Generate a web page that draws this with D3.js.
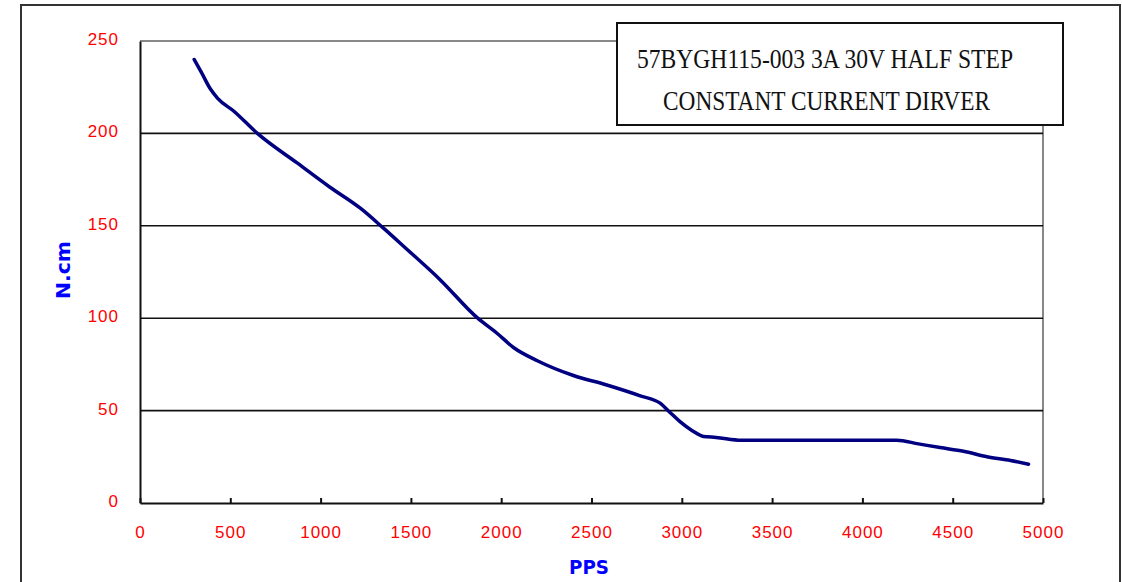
<!DOCTYPE html>
<html>
<head>
<meta charset="utf-8">
<script src="https://d3js.org/d3.v7.min.js"></script>
<style>
  body { margin: 0; background: #fff; }
</style>
</head>
<body>
<div id="torqueCurve"></div>
<script>
// data
var pps = [300, 340, 390, 430, 520, 650, 870, 1050, 1220, 1345, 1470, 1660, 1870, 1975, 2070, 2200,
  2400, 2580, 2770, 2880, 2935, 2990, 3060, 3120, 3190, 3330, 4190, 4310, 4430, 4560, 4690, 4820, 4920]
var torque = [240, 233, 224, 219, 212, 200, 184, 171, 159.5, 149, 138, 121, 100, 92, 84, 77,
  69, 64, 58, 54, 49, 44, 39, 36, 35.5, 34, 34, 32, 30, 28, 25, 23, 21]
var xTicks = [0, 500, 1000, 1500, 2000, 2500, 3000, 3500, 4000, 4500, 5000]
var yTicks = [0, 50, 100, 150, 200, 250]
var titleLines = ["57BYGH115-003 3A 30V HALF STEP", "CONSTANT CURRENT DIRVER"]
var xTitle = "PPS"
var yTitle = "N.cm"

// set the dimensions and margins of the graph
var W = 1122, H = 582
var margin = {top: 41, right: 79, bottom: 79, left: 140},
    width = W - margin.left - margin.right,
    height = H - margin.top - margin.bottom

var svg = d3.select("#torqueCurve")
  .append("svg")
  .attr("width", W)
  .attr("height", H)

// outer frame
svg.append("rect")
  .attr("x", 21).attr("y", 5)
  .attr("width", 1099).attr("height", 600)
  .attr("fill", "none")
  .attr("stroke", "#333")
  .attr("stroke-width", 2)

var g = svg.append("g")
  .attr("transform", "translate(" + margin.left + "," + margin.top + ")")

var x = d3.scaleLinear().domain([0, 5000]).range([0, width])
var y = d3.scaleLinear().domain([0, 250]).range([height, 0])

// top and right border (grey)
g.append("path")
  .attr("d", "M0,0H" + width + "V" + height)
  .attr("fill", "none")
  .attr("stroke", "#888")
  .attr("stroke-width", 2)

// gridlines
g.selectAll("line.grid")
  .data(yTicks.filter(function(d) { return d > 0 && d < 250 }))
  .enter().append("line")
  .attr("class", "grid")
  .attr("x1", 0).attr("x2", width)
  .attr("y1", function(d) { return y(d) })
  .attr("y2", function(d) { return y(d) })
  .attr("stroke", "#111")
  .attr("stroke-width", 1.6)

// x axis with inward ticks
var xAxis = g.append("g")
  .attr("transform", "translate(0," + height + ")")
  .call(d3.axisBottom(x).tickValues(xTicks).tickFormat(d3.format("d"))
    .tickSize(-5).tickPadding(23).tickSizeOuter(0))
xAxis.select(".domain").attr("stroke", "#111").attr("stroke-width", 2)
xAxis.selectAll(".tick line").attr("stroke", "#111").attr("stroke-width", 2)
xAxis.selectAll(".tick text")
  .attr("fill", "#ff0000")
  .style("font-family", "Liberation Sans, Arial, sans-serif")
  .style("font-size", "17px")
  .style("letter-spacing", "1px")

// y axis
var yAxis = g.append("g")
  .call(d3.axisLeft(y).tickValues(yTicks).tickSize(0).tickPadding(21))
yAxis.select(".domain").attr("stroke", "#111").attr("stroke-width", 2)
yAxis.selectAll(".tick text")
  .attr("fill", "#ff0000")
  .attr("dy", "0.2em")
  .style("font-family", "Liberation Sans, Arial, sans-serif")
  .style("font-size", "17px")
  .style("letter-spacing", "1px")

// torque curve
var data = pps.map(function(p, i) { return {x: p, y: torque[i]} })
g.append("path")
  .datum(data)
  .attr("fill", "none")
  .attr("stroke", "#000080")
  .attr("stroke-width", 3.5)
  .attr("stroke-linecap", "round")
  .attr("d", d3.line()
    .x(function(d) { return x(d.x) })
    .y(function(d) { return y(d.y) })
    .curve(d3.curveMonotoneX))

// axis titles
svg.append("text")
  .attr("x", 589).attr("y", 574)
  .attr("text-anchor", "middle")
  .attr("fill", "#0000ff")
  .attr("textLength", 40)
  .attr("lengthAdjust", "spacingAndGlyphs")
  .style("font-family", "DejaVu Sans, sans-serif")
  .style("font-weight", "bold")
  .style("font-size", "19px")
  .text(xTitle)

svg.append("text")
  .attr("transform", "translate(70,270) rotate(-90)")
  .attr("text-anchor", "middle")
  .attr("fill", "#0000ff")
  .attr("textLength", 58)
  .attr("lengthAdjust", "spacingAndGlyphs")
  .style("font-family", "DejaVu Sans, sans-serif")
  .style("font-weight", "bold")
  .style("font-size", "19px")
  .text(yTitle)

// title box
svg.append("rect")
  .attr("x", 617).attr("y", 23)
  .attr("width", 446).attr("height", 102)
  .attr("fill", "#fff")
  .attr("stroke", "#111")
  .attr("stroke-width", 2)

var titleX = [[637, 376], [663, 327]]
var titleY = [68, 110]
svg.selectAll("text.title")
  .data(titleLines)
  .enter().append("text")
  .attr("class", "title")
  .attr("x", function(d, i) { return titleX[i][0] })
  .attr("y", function(d, i) { return titleY[i] })
  .attr("textLength", function(d, i) { return titleX[i][1] })
  .attr("lengthAdjust", "spacingAndGlyphs")
  .attr("fill", "#111")
  .style("font-family", "Liberation Serif, Times New Roman, serif")
  .style("font-size", "28px")
  .text(function(d) { return d })
</script>
</body>
</html>
